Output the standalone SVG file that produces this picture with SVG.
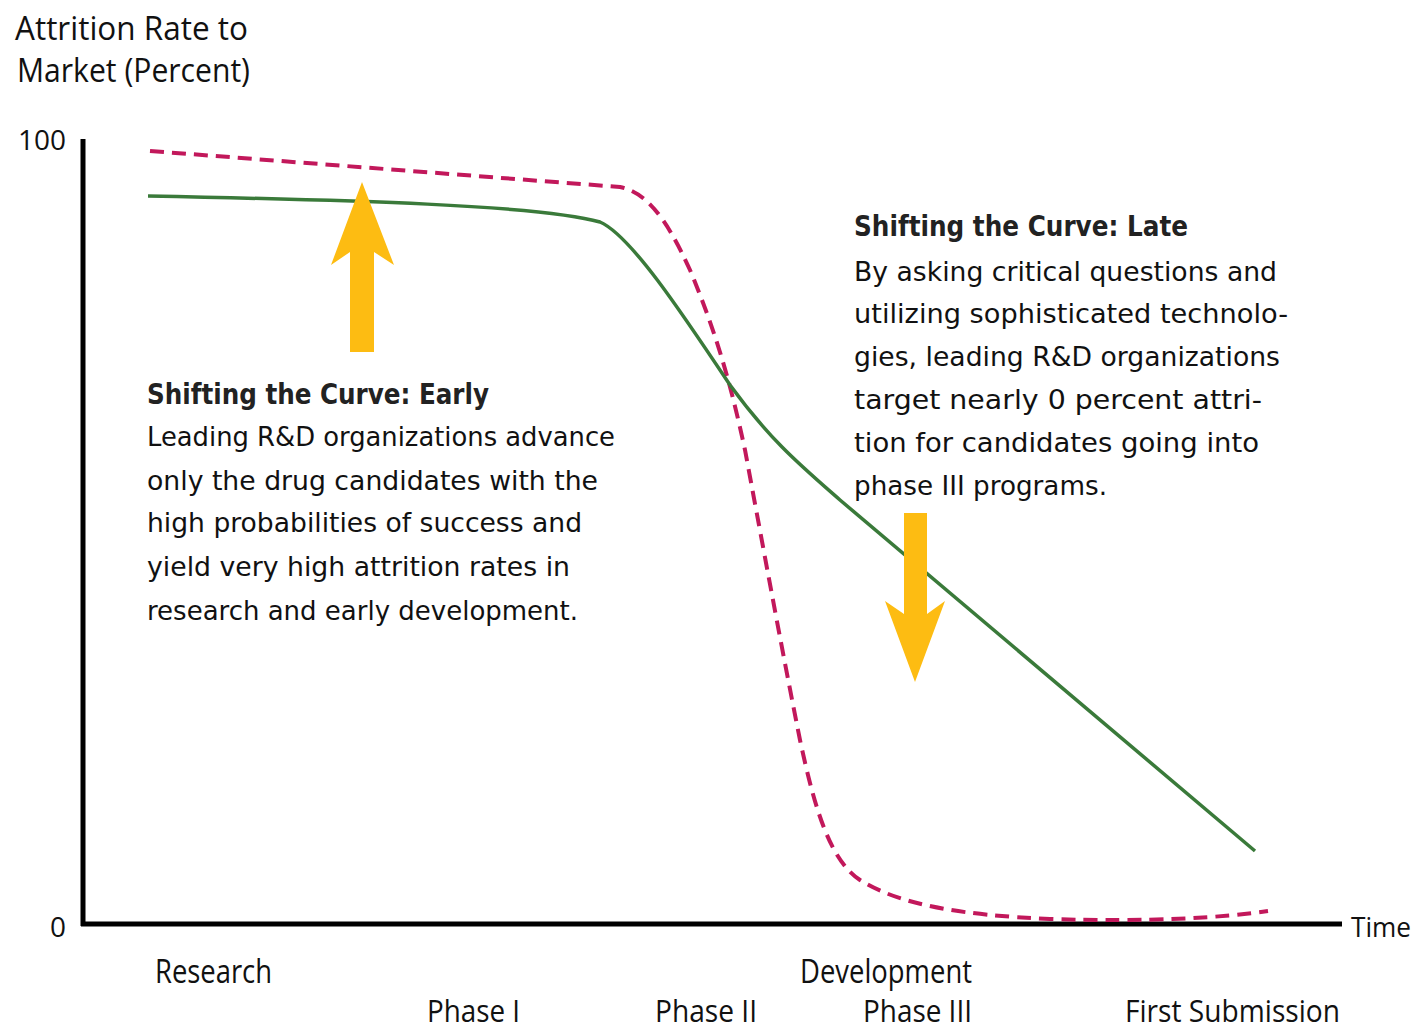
<svg xmlns="http://www.w3.org/2000/svg" width="1418" height="1032" viewBox="0 0 1418 1032">
<style>
.t{font-family:"Open Sans","Liberation Sans",sans-serif;fill:#111;}
.lab{font-size:33px;}
.low{font-size:31px;}
.body{font-family:"DejaVu Sans","Liberation Sans",sans-serif;font-size:27px;fill:#111;}
.head{font-family:"DejaVu Sans","Liberation Sans",sans-serif;font-size:28px;font-weight:bold;fill:#222;}
.axis{stroke:#000;stroke-width:5;fill:none;}
.green{stroke:#3a7a3a;stroke-width:3.5;fill:none;}
.dash{stroke:#c2185b;stroke-width:4;fill:none;stroke-dasharray:14 8;}
.arrow{fill:#fdbc12;}
</style>
<rect width="1418" height="1032" fill="#fff"/>
<g id="title">
<text class="t lab" x="15" y="40" textLength="233" lengthAdjust="spacingAndGlyphs">Attrition Rate to</text>
<text class="t lab" x="17" y="82" textLength="233" lengthAdjust="spacingAndGlyphs">Market (Percent)</text>
</g>
<g id="axes">
<line class="axis" x1="83" y1="139" x2="83" y2="926"/>
<line class="axis" x1="81" y1="924" x2="1342" y2="924"/>
<text class="t" style="font-size:27px" x="18" y="150" textLength="48" lengthAdjust="spacingAndGlyphs">100</text>
<text class="t" style="font-size:27px" x="50" y="937" textLength="16" lengthAdjust="spacingAndGlyphs">0</text>
<text class="t" style="font-size:28px" x="1351" y="937" textLength="60" lengthAdjust="spacingAndGlyphs">Time</text>
</g>
<g id="x-labels">
<text class="t lab" x="155" y="983" textLength="117" lengthAdjust="spacingAndGlyphs">Research</text>
<text class="t lab" x="800" y="983" textLength="172" lengthAdjust="spacingAndGlyphs">Development</text>
<text class="t low" x="427" y="1022" textLength="93" lengthAdjust="spacingAndGlyphs">Phase I</text>
<text class="t low" x="655" y="1022" textLength="102" lengthAdjust="spacingAndGlyphs">Phase II</text>
<text class="t low" x="863" y="1022" textLength="109" lengthAdjust="spacingAndGlyphs">Phase III</text>
<text class="t low" x="1125" y="1022" textLength="215" lengthAdjust="spacingAndGlyphs">First Submission</text>
</g>
<g id="curves">
<path class="dash" d="M150,151 L620,187 C645,192 665,215 690,270 C715,330 730,380 745,450 C760,530 780,640 800,740 C815,810 830,860 860,880 C900,905 960,915 1050,919 C1150,922 1220,918 1268,911"/>
<path class="green" d="M148,196 C350,200 540,205 600,222 C630,235 680,310 730,385 C770,440 800,465 840,500 L1255,851"/>
</g>
<g id="arrow-early">
<polygon class="arrow" points="362,182 394,265 374,252 374,352 350,352 350,252 331,265"/>
</g>
<g id="arrow-late">
<polygon class="arrow" points="904,513 927,513 927,614 945,601 915,682 885,601 904,614"/>
</g>
<g id="note-early">
<text class="head" x="147" y="404" textLength="342" lengthAdjust="spacingAndGlyphs">Shifting the Curve: Early</text>
<text class="body" x="147" y="446" textLength="468" lengthAdjust="spacingAndGlyphs">Leading R&amp;D organizations advance</text>
<text class="body" x="147" y="490" textLength="451" lengthAdjust="spacingAndGlyphs">only the drug candidates with the</text>
<text class="body" x="147" y="532" textLength="435" lengthAdjust="spacingAndGlyphs">high probabilities of success and</text>
<text class="body" x="147" y="576" textLength="423" lengthAdjust="spacingAndGlyphs">yield very high attrition rates in</text>
<text class="body" x="147" y="620" textLength="431" lengthAdjust="spacingAndGlyphs">research and early development.</text>
</g>
<g id="note-late">
<text class="head" x="854" y="236" textLength="334" lengthAdjust="spacingAndGlyphs">Shifting the Curve: Late</text>
<text class="body" x="854" y="281" textLength="423" lengthAdjust="spacingAndGlyphs">By asking critical questions and</text>
<text class="body" x="854" y="323" textLength="434" lengthAdjust="spacingAndGlyphs">utilizing sophisticated technolo-</text>
<text class="body" x="854" y="366" textLength="426" lengthAdjust="spacingAndGlyphs">gies, leading R&amp;D organizations</text>
<text class="body" x="854" y="409" textLength="408" lengthAdjust="spacingAndGlyphs">target nearly 0 percent attri-</text>
<text class="body" x="854" y="452" textLength="405" lengthAdjust="spacingAndGlyphs">tion for candidates going into</text>
<text class="body" x="854" y="495" textLength="253" lengthAdjust="spacingAndGlyphs">phase III programs.</text>
</g>
</svg>
